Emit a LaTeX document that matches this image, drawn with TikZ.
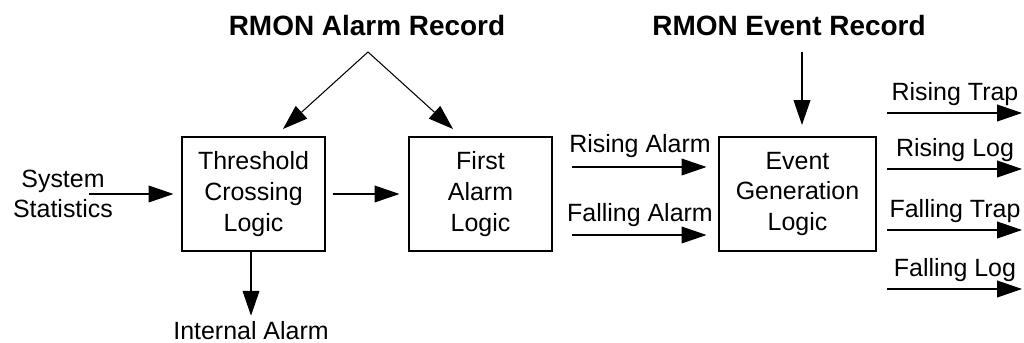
\documentclass[tikz,border=0pt]{standalone}
\usepackage{fontspec}
\setmainfont{Liberation Sans}
\usetikzlibrary{arrows.meta}

\begin{document}
\begin{tikzpicture}[x=0.2mm,y=-0.2mm,
    every node/.style={font=\fontsize{14.2}{17.4}\selectfont},
    logic/.style={draw, line width=0.6pt, align=center, inner sep=0pt,
      minimum width=28.6mm, minimum height=22.8mm},
    title/.style={anchor=base, font=\bfseries\fontsize{15.9}{19}\selectfont},
    sig/.style={anchor=base},
    flow/.style={-{Triangle[length=14.2pt,width=9.6pt]}, line width=0.6pt}]
    \useasboundingbox (0,0) rectangle (1024,343);

    % blocks
    \node[logic] (thresh) at (253.5,194) {Threshold\\Crossing\\Logic};
    \node[logic] (first) at (480.5,194) {First\\Alarm\\Logic};
    \node[logic, minimum width=31.4mm] (event) at (797.5,194) {Event\\Generation\\Logic};

    % records on top
    \node[title] (alarmrec) at (367,35.5) {RMON Alarm Record};
    \node[title] (eventrec) at (789,35.5) {RMON Event Record};
    \coordinate (alarmtop) at (368,52);
    \coordinate (threshin) at (283,129);
    \coordinate (firstin) at (453,129);
    \coordinate (eventtop) at (802,52);
    \coordinate (eventin) at (802,125);
    \draw[flow] (alarmtop) -- (threshin);
    \draw[flow] (alarmtop) -- (firstin);
    \draw[flow] (eventtop) -- (eventin);

    % input and internal alarm
    \node[align=center] (sysstat) at (63,194) {System\\Statistics};
    \coordinate (sysin) at (89,194);
    \draw[flow, shorten >=1.6mm] (sysin) -- (thresh.west);
    \draw[flow, shorten <=1.4mm, shorten >=1.8mm] (thresh) -- (first);
    \node[sig] (internal) at (251,340) {Internal Alarm};
    \draw[flow] (thresh.south -| internal) -- (internal.north);

    % alarms into event logic
    \node[sig] (risealarm) at (640,153) {Rising Alarm};
    \node[sig] (fallalarm) at (640,222) {Falling Alarm};
    \coordinate (risealarmin) at (572,167);
    \coordinate (fallalarmin) at (572,235);
    \draw[flow, shorten >=2.4mm] (risealarmin) -- (risealarmin -| event.west);
    \draw[flow, shorten >=2.4mm] (fallalarmin) -- (fallalarmin -| event.west);

    % outputs
    \node[sig] (risetrap) at (955,101) {Rising Trap};
    \node[sig] (riselog) at (955,157) {Rising Log};
    \node[sig] (falltrap) at (955,218) {Falling Trap};
    \node[sig] (falllog) at (955,277) {Falling Log};
    \coordinate (risetrapout) at (887,113);
    \coordinate (riselogout) at (887,169);
    \coordinate (falltrapout) at (887,230);
    \coordinate (falllogout) at (887,289);
    \draw[flow] (risetrapout) -- ++(135,0);
    \draw[flow] (riselogout) -- ++(135,0);
    \draw[flow] (falltrapout) -- ++(135,0);
    \draw[flow] (falllogout) -- ++(135,0);
\end{tikzpicture}
\end{document}
